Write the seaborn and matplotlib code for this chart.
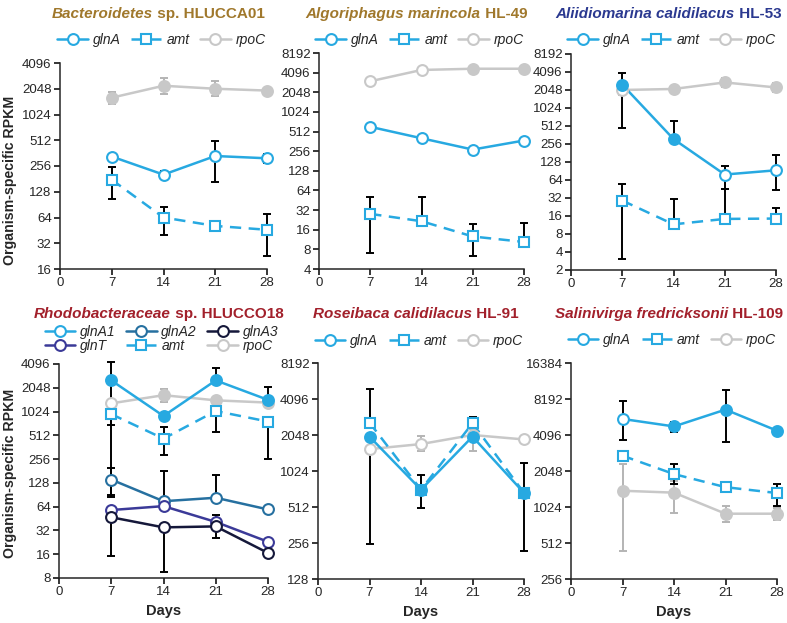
"""
Expresión de glnA / amt / rpoC en seis organismos (RPKM, escala log2)
"""
import matplotlib
matplotlib.use("Agg")
import matplotlib.pyplot as plt
from matplotlib.lines import Line2D
import seaborn as sns
import numpy as np

sns.set_style("ticks")
plt.rcParams['font.family'] = ['Liberation Sans', 'DejaVu Sans']
plt.rcParams['axes.linewidth'] = 1.1

W, H = 787, 623
nan = np.nan

days = [7, 14, 21, 28]

# --- Bacteroidetes sp. HLUCCA01 ---
bact_glnA = [330, 203, 335, 315]
bact_glnA_lo = [nan, 185, 165, 280]
bact_glnA_hi = [nan, 222, 500, 350]
bact_amt = [177, 64, 51, 46]
bact_amt_lo = [105, 40, nan, 23]
bact_amt_hi = [250, 85, nan, 70]
bact_rpoC = [1610, 2220, 2048, 1950]
bact_rpoC_lo = [1350, 1800, 1700, nan]
bact_rpoC_hi = [1900, 2700, 2500, nan]

# --- Algoriphagus marincola HL-49 ---
algo_glnA = [605, 404, 271, 373]
algo_amt = [28, 21.6, 12.6, 10.4]
algo_amt_lo = [7.1, nan, 6.4, nan]
algo_amt_hi = [50, 50, 19.5, 20]
algo_rpoC = [3020, 4500, 4700, 4700]

# --- Aliidiomarina calidilacus HL-53 ---
aliid_glnA = [2520, 310, 79, 93]
aliid_glnA_lo = [480, nan, 45, 43]
aliid_glnA_hi = [4000, 630, 108, 168]
aliid_amt = [29, 11.6, 14.3, 14.5]
aliid_amt_lo = [3.1, nan, nan, nan]
aliid_amt_hi = [55, 31, 45, 22]
aliid_rpoC = [2048, 2130, 2740, 2260]
aliid_rpoC_lo = [1700, nan, 2300, 1900]
aliid_rpoC_hi = [nan, nan, 3300, 2700]

# --- Rhodobacteraceae sp. HLUCCO18 ---
rhodo_glnA1 = [2540, 900, 2540, 1440]
rhodo_glnA1_lo = [700, nan, nan, nan]
rhodo_glnA1_hi = [4400, nan, 3600, 2100]
rhodo_glnA2 = [141, 75, 83, 59]
rhodo_glnA2_lo = [85, nan, nan, nan]
rhodo_glnA2_hi = [200, 180, 160, nan]
rhodo_glnA3 = [47, 35, 36, 16.6]
rhodo_glnA3_lo = [15, 9.5, 26, nan]
rhodo_glnA3_hi = [nan, nan, 50, nan]
rhodo_glnT = [58, 65, 41, 23]
rhodo_amt = [950, 465, 1040, 765]
rhodo_amt_lo = [90, 290, 560, 260]
rhodo_amt_hi = [nan, 650, nan, nan]
rhodo_rpoC = [1300, 1650, 1420, 1330]
rhodo_rpoC_lo = [nan, 1350, nan, nan]
rhodo_rpoC_hi = [nan, 2000, nan, nan]

# --- Roseibaca calidilacus HL-91 ---
rosei_glnA = [1985, 715, 1985, 672]
rosei_glnA_lo = [253, 500, nan, 220]
rosei_amt = [2600, 715, 2570, 672]
rosei_amt_hi = [4950, 940, 2900, 1200]
rosei_rpoC = [1560, 1720, 2048, 1880]
rosei_rpoC_lo = [nan, 1500, 1500, nan]
rosei_rpoC_hi = [nan, 2000, 2300, nan]

# --- Salinivirga fredricksonii HL-109 ---
salin_glnA = [5580, 4830, 6680, 4450]
salin_glnA_lo = [3750, 4300, 3600, 4200]
salin_glnA_hi = [7850, 5300, 9800, 4700]
salin_amt = [2750, 1930, 1500, 1340]
salin_amt_lo = [nan, 1600, nan, 1050]
salin_amt_hi = [nan, 2350, nan, 1600]
salin_rpoC = [1400, 1350, 900, 900]
salin_rpoC_lo = [440, 910, 760, 800]
salin_rpoC_hi = [2350, 1700, 1050, 1000]

# Colores
C_GLNA = '#27a9e1'
C_GLNA2 = '#2670a0'
C_GLNA3 = '#15183a'
C_GLNT = '#3b3a98'
C_RPOC = '#c8c8c8'
T_BROWN = '#a0782c'
T_BLUE = '#2b3990'
T_RED = '#a2202b'

STYLE = {
    'glnA': (C_GLNA, '-', 'o'), 'glnA1': (C_GLNA, '-', 'o'),
    'glnA2': (C_GLNA2, '-', 'o'), 'glnA3': (C_GLNA3, '-', 'o'),
    'glnT': (C_GLNT, '-', 'o'), 'amt': (C_GLNA, '--', 's'),
    'rpoC': (C_RPOC, '-', 'o'),
}
MS = 7.8
DASH = (4.5, 3)


def px_rect(l, t, r, b):
    return [l / W, 1 - b / H, (r - l) / W, (b - t) / H]


def serie(name, vals, filled=None, lo=None, hi=None):
    return dict(name=name, vals=vals, filled=filled or [False] * 4, lo=lo, hi=hi)


F, T = False, True
panels = [
    dict(rect=px_rect(60, 63, 267, 269), exps=(4, 12), ylabel=0.43, xlabel=False,
         title=[('Bacteroidetes', 'italic'), (' sp. HLUCCA01', 'normal')], tcolor=T_BROWN,
         title_y=18, legend_y=40,
         series=[serie('glnA', bact_glnA, lo=bact_glnA_lo, hi=bact_glnA_hi),
                 serie('amt', bact_amt, lo=bact_amt_lo, hi=bact_amt_hi),
                 serie('rpoC', bact_rpoC, [T, T, T, T], bact_rpoC_lo, bact_rpoC_hi)],
         legend=['glnA', 'amt', 'rpoC']),
    dict(rect=px_rect(319, 53, 524, 269), exps=(2, 13), ylabel=None, xlabel=False,
         title=[('Algoriphagus marincola', 'italic'), (' HL-49', 'normal')], tcolor=T_BROWN,
         title_y=18, legend_y=40,
         series=[serie('glnA', algo_glnA),
                 serie('amt', algo_amt, lo=algo_amt_lo, hi=algo_amt_hi),
                 serie('rpoC', algo_rpoC, [F, F, T, T])],
         legend=['glnA', 'amt', 'rpoC']),
    dict(rect=px_rect(571, 54, 776, 270), exps=(1, 13), ylabel=None, xlabel=False,
         title=[('Aliidiomarina calidilacus', 'italic'), (' HL-53', 'normal')], tcolor=T_BLUE,
         title_y=18, legend_y=40,
         series=[serie('rpoC', aliid_rpoC, [F, T, T, T], aliid_rpoC_lo, aliid_rpoC_hi),
                 serie('glnA', aliid_glnA, [T, T, F, F], aliid_glnA_lo, aliid_glnA_hi),
                 serie('amt', aliid_amt, lo=aliid_amt_lo, hi=aliid_amt_hi)],
         legend=['glnA', 'amt', 'rpoC']),
    dict(rect=px_rect(59, 364, 268, 578), exps=(3, 12), ylabel=0.49, xlabel=True,
         title=[('Rhodobacteraceae', 'italic'), (' sp. HLUCCO18', 'normal')], tcolor=T_RED,
         title_y=318, legend_y=339,
         series=[serie('rpoC', rhodo_rpoC, [F, T, T, T], rhodo_rpoC_lo, rhodo_rpoC_hi),
                 serie('glnA1', rhodo_glnA1, [T, T, T, T], rhodo_glnA1_lo, rhodo_glnA1_hi),
                 serie('amt', rhodo_amt, lo=rhodo_amt_lo, hi=rhodo_amt_hi),
                 serie('glnA2', rhodo_glnA2, lo=rhodo_glnA2_lo, hi=rhodo_glnA2_hi),
                 serie('glnT', rhodo_glnT),
                 serie('glnA3', rhodo_glnA3, lo=rhodo_glnA3_lo, hi=rhodo_glnA3_hi)],
         legend=['glnA1', 'glnT', 'glnA2', 'amt', 'glnA3', 'rpoC']),
    dict(rect=px_rect(318, 363, 524, 579), exps=(7, 13), ylabel=None, xlabel=True,
         title=[('Roseibaca calidilacus', 'italic'), (' HL-91', 'normal')], tcolor=T_RED,
         title_y=318, legend_y=341,
         series=[serie('rpoC', rosei_rpoC, lo=rosei_rpoC_lo, hi=rosei_rpoC_hi),
                 serie('amt', rosei_amt, [F, T, F, T], hi=rosei_amt_hi),
                 serie('glnA', rosei_glnA, [T, T, T, T], lo=rosei_glnA_lo)],
         legend=['glnA', 'amt', 'rpoC']),
    dict(rect=px_rect(571, 363, 777, 579), exps=(8, 14), ylabel=None, xlabel=True,
         title=[('Salinivirga fredricksonii', 'italic'), (' HL-109', 'normal')], tcolor=T_RED,
         title_y=318, legend_y=340,
         series=[serie('rpoC', salin_rpoC, [T, T, T, T], salin_rpoC_lo, salin_rpoC_hi),
                 serie('amt', salin_amt, lo=salin_amt_lo, hi=salin_amt_hi),
                 serie('glnA', salin_glnA, [F, T, T, T], salin_glnA_lo, salin_glnA_hi)],
         legend=['glnA', 'amt', 'rpoC']),
]

fig = plt.figure(figsize=(W / 100, H / 100), dpi=100)
titles = []

for p in panels:
    ax = fig.add_axes(p['rect'])
    ax.set_yscale('log', base=2)

    for s in p['series']:
        color, ls, mk = STYLE[s['name']]
        vals = np.array(s['vals'], dtype=float)
        ecol = '#b4b4b4' if s['name'] == 'rpoC' else 'black'
        # barras de error (inferior y superior por separado, hay huecos)
        if s['lo'] is not None:
            low = np.nan_to_num(vals - np.array(s['lo'], dtype=float))
            ax.errorbar(days, vals, yerr=[low, np.zeros(4)], fmt='none', ecolor=ecol,
                        elinewidth=1.4, capsize=3.2, capthick=1.4, zorder=2, clip_on=False)
        if s['hi'] is not None:
            high = np.nan_to_num(np.array(s['hi'], dtype=float) - vals)
            ax.errorbar(days, vals, yerr=[np.zeros(4), high], fmt='none', ecolor=ecol,
                        elinewidth=1.4, capsize=3.2, capthick=1.4, zorder=2, clip_on=False)
        # línea
        line_kw = dict(dashes=DASH) if ls == '--' else {}
        sns.lineplot(x=days, y=vals, ax=ax, color=color, linewidth=1.8, legend=False,
                     zorder=3, clip_on=False, **line_kw)
        # marcadores (rellenos o vacíos)
        for d, v, f in zip(days, vals, s['filled']):
            ax.plot([d], [v], linestyle='none', marker=mk, markersize=MS, markeredgewidth=1.5,
                    markeredgecolor=color, markerfacecolor=color if f else 'white',
                    zorder=4, clip_on=False)

    lo_e, hi_e = p['exps']
    yt = [2 ** e for e in range(lo_e, hi_e + 1)]
    ax.set_yticks(yt)
    ax.set_yticklabels([str(v) for v in yt])
    ax.yaxis.set_minor_locator(matplotlib.ticker.NullLocator())
    ax.set_ylim(yt[0], yt[-1])
    ax.set_xlim(0, 28)
    ax.set_xticks([0, 7, 14, 21, 28])
    ax.tick_params(axis='both', labelsize=9.5, length=4, width=1.1, pad=2, color='black')
    sns.despine(ax=ax)

    l, b, w, h = p['rect']
    if p['ylabel'] is not None:
        ax.set_ylabel('Organism-specific RPKM', fontsize=10.2, fontweight='bold')
        ax.yaxis.set_label_coords((17 - l * W) / (w * W), p['ylabel'])
    if p['xlabel']:
        ax.set_xlabel('Days', fontsize=10.5, fontweight='bold', labelpad=4)

    # leyenda
    handles = []
    for name in p['legend']:
        color, ls, mk = STYLE[name]
        kw = dict(dashes=DASH) if ls == '--' else {}
        handles.append(Line2D([], [], color=color, linewidth=1.8, marker=mk, markersize=MS,
                              markeredgewidth=1.5, markerfacecolor='white', **kw))
    cx = l + w / 2 - 2 / W
    ax.legend(handles, p['legend'], ncol=3, frameon=False,
              loc='center', bbox_to_anchor=(cx, 1 - p['legend_y'] / H),
              bbox_transform=fig.transFigure,
              handlelength=2.2, handletextpad=0.35, columnspacing=0.75,
              labelspacing=-0.05, borderpad=0, borderaxespad=0,
              prop=dict(style='italic', size=10))

    # título mixto cursiva / normal
    parts = p['title']
    t1 = ax.annotate(parts[0][0], xy=(0, 0), xycoords='figure pixels', ha='left', va='baseline',
                     fontsize=11, fontweight='bold', style=parts[0][1], color=p['tcolor'])
    t2 = ax.annotate(parts[1][0], xy=(1, 0), xycoords=t1, ha='left', va='bottom',
                     fontsize=11, fontweight='bold', style=parts[1][1], color=p['tcolor'])
    titles.append((p, t1, t2))

# centrar títulos sobre cada panel (sin salirse de la figura)
fig.canvas.draw()
renderer = fig.canvas.get_renderer()
for p, t1, t2 in titles:
    b1 = t1.get_window_extent(renderer)
    b2 = t2.get_window_extent(renderer)
    width = b2.x1 - b1.x0
    l, b, w, h = p['rect']
    cx = (l + w / 2) * W - 5
    x0 = min(cx - width / 2, W - 4 - width)
    pos = (x0, H - p['title_y'])
    t1.xy = pos
    t1.set_position(pos)

fig.savefig('out.png', dpi=100)
